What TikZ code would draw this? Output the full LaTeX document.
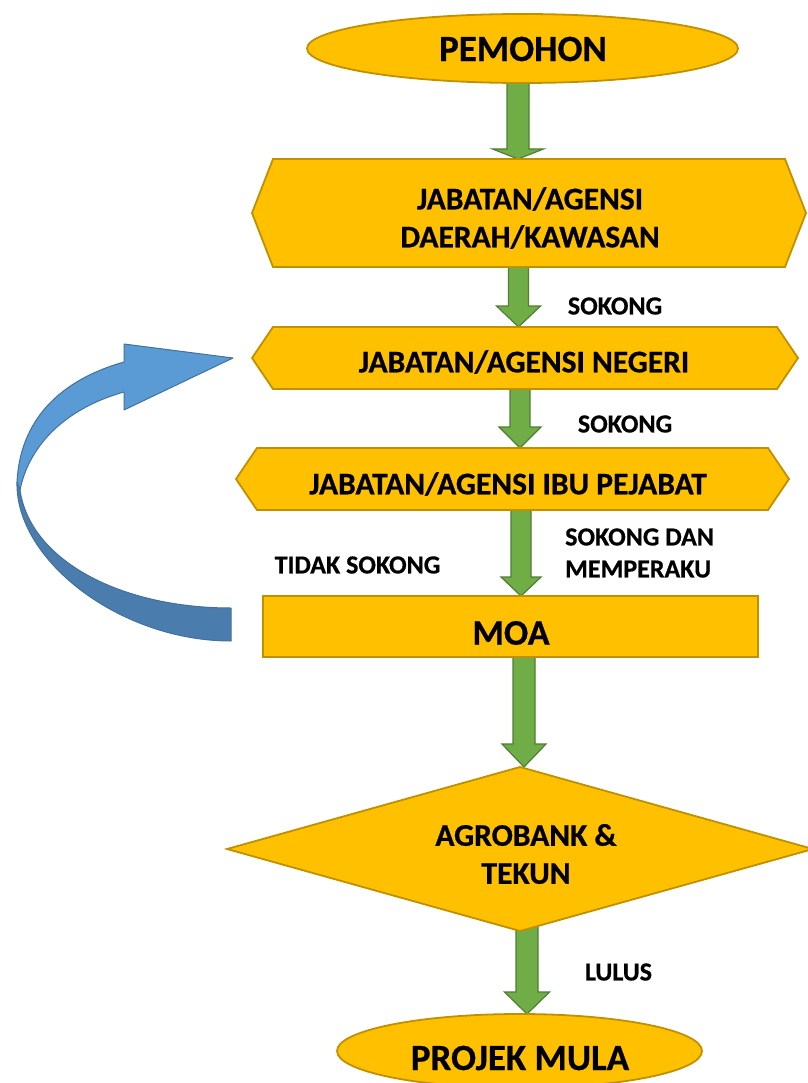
\documentclass[tikz,border=0pt]{standalone}
\usepackage{fontspec}
\setmainfont{Carlito}[BoldFeatures={FakeBold=0.6}]
\usetikzlibrary{shapes.geometric,calc,backgrounds}
\definecolor{gold}{HTML}{FFC000}
\definecolor{goldline}{HTML}{BF9000}
\definecolor{grn}{HTML}{70AD47}
\definecolor{grnline}{HTML}{507E32}
\definecolor{bluelt}{HTML}{5B9BD5}
\definecolor{bluedk}{HTML}{4A7DAE}
\definecolor{blueline}{HTML}{41719C}
\tikzset{
  shapebox/.style={fill=gold, draw=goldline, line width=1.8pt},
  framebox/.style 2 args={inner sep=0pt, outer sep=0pt, minimum width=#1pt, minimum height=#2pt},
  bigtxt/.style={font={\fontsize{37pt}{44pt}\selectfont\bfseries}, inner sep=0pt},
  midtxt/.style={font={\fontsize{31.5pt}{38pt}\selectfont\bfseries}, inner sep=0pt, align=center},
  lbltxt/.style={font={\fontsize{26pt}{32pt}\selectfont\bfseries}, inner sep=0pt},
  garrowstyle/.style={fill=grn, draw=grnline, line width=1.2pt, line join=miter},
  bluearrowlt/.style={fill=bluelt, draw=blueline, line width=1pt, line join=round},
  bluearrowdk/.style={fill=bluedk, draw=blueline, line width=1pt, line join=round}
}
\newcommand\hexpath[1]{\draw[shapebox] (#1.west) -- ([xshift=21pt]#1.north west) -- ([xshift=-21pt]#1.north east) -- (#1.east) -- ([xshift=-21pt]#1.south east) -- ([xshift=21pt]#1.south west) -- cycle;}
% from, to, x centre, shaft half width, head half width, head length
\newcommand\gArrow[6]{\draw[garrowstyle] let \p1=(#1), \p2=(#2) in
  (#3pt-#4pt,\y1) -- (#3pt+#4pt,\y1) -- (#3pt+#4pt,\y2+#6pt) -- (#3pt+#5pt,\y2+#6pt) -- (#3pt,\y2) -- (#3pt-#5pt,\y2+#6pt) -- (#3pt-#4pt,\y2+#6pt) -- cycle;}
\begin{document}
\begin{tikzpicture}[x=1pt,y=-1pt]
\useasboundingbox (0,0) rectangle (807,1083);
% shapes
\node[ellipse, shapebox, framebox={431}{69}] (pem) at (522.5,48.5) {};
\node[framebox={554}{108}] (hex1) at (529,213) {};
\node[framebox={546}{62}] (hex2) at (525,358) {};
\node[framebox={553}{62}] (hex3) at (512.5,479) {};
\node[rectangle, shapebox, framebox={495}{61}] (moa) at (510.5,626.5) {};
\node[diamond, aspect=3.5, shapebox, framebox={586}{164}] (dia) at (520,849) {};
\node[ellipse, shapebox, framebox={365}{74}] (proj) at (519.5,1051) {};
\begin{scope}[on background layer]
  \gArrow{pem.center}{hex1.north}{518}{11}{25.5}{10}
  \gArrow{hex1.center}{hex2.north}{518.5}{10}{22}{21}
  \gArrow{hex2.center}{hex3.north}{520}{10}{21}{21}
  \gArrow{hex3.center}{moa.north}{521}{10}{20}{19}
  \gArrow{moa.center}{dia.north}{524}{11}{22}{23}
  \gArrow{dia.center}{proj.north}{527}{11}{22.5}{22}
  \hexpath{hex1}
  \hexpath{hex2}
  \hexpath{hex3}
\end{scope}
% curved return arrow (MOA back to state level)
\coordinate (btail) at ([xshift=-32pt]moa.west);
\coordinate (btip) at ([xshift=-19pt]hex2.west);
\draw[bluearrowdk] (17,482) .. controls (15,560) and (120,641) .. (btail |- 0,641) -- (btail |- 0,608) .. controls (120,608) and (30,560) .. (20,490) -- cycle;
\draw[bluearrowlt] (124,362) .. controls (60,380) and (20,420) .. (17,482) -- (20,490) .. controls (28,450) and (60,410) .. (124,392) -- (124,410) -- (btip) -- (124,344) -- cycle;
% texts
\node[bigtxt] (tpem) at (523,49) {PEMOHON};
\node[midtxt] (thex1) at (530,218) {JABATAN/AGENSI\\DAERAH/KAWASAN};
\node[midtxt] (thex2) at (524,362) {JABATAN/AGENSI NEGERI};
\node[midtxt] (thex3) at (508,484) {JABATAN/AGENSI IBU PEJABAT};
\node[bigtxt, font={\fontsize{36pt}{44pt}\selectfont\bfseries}] (tmoa) at (511,633) {MOA};
\node[midtxt] (tdia) at (526,854) {AGROBANK \&\\TEKUN};
\node[bigtxt] (tproj) at (520,1058) {PROJEK MULA};
\node[lbltxt] (l1) at (615,306) {SOKONG};
\node[lbltxt] (l2) at (625,424) {SOKONG};
\node[lbltxt, align=left, anchor=west] (l3) at (565,553) {SOKONG DAN\\MEMPERAKU};
\node[lbltxt] (l4) at (357.5,565) {TIDAK SOKONG};
\node[lbltxt] (l5) at (618.5,972) {LULUS};
\end{tikzpicture}
\end{document}
